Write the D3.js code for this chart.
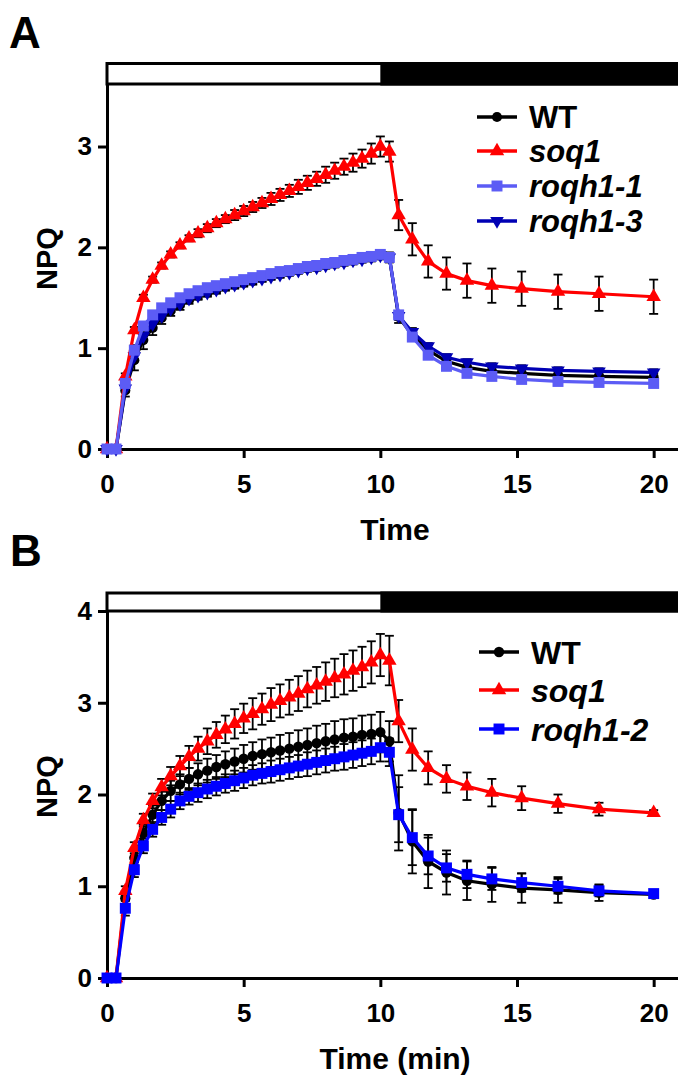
<!DOCTYPE html>
<html>
<head>
<meta charset="utf-8">
<script src="https://cdn.jsdelivr.net/npm/d3@7"></script>
<style>
body { margin: 0; background: #fff; }
svg { display: block; font-family: Arial, "Liberation Sans", sans-serif; font-weight: bold; }
</style>
</head>
<body>
<div id="view"></div>
<script>
var width = 678, height = 1078;

// sampling times (min): light phase every 20 s, then dark recovery
var times = [0, 0.33, 0.67, 1, 1.33, 1.67, 2, 2.33, 2.67, 3,
	3.33, 3.67, 4, 4.33, 4.67, 5, 5.33, 5.67, 6, 6.33,
	6.67, 7, 7.33, 7.67, 8, 8.33, 8.67, 9, 9.33, 9.67,
	10, 10.33, 10.67, 11.17, 11.75, 12.42, 13.17, 14.08, 15.17, 16.5, 18, 20];
var xTicks = [0, 5, 10, 15, 20];
var yTicksA = [0, 1, 2, 3];
var yTicksB = [0, 1, 2, 3, 4];

// panel A
var aWT = [0, 0, 0.58, 0.88, 1.08, 1.2, 1.3, 1.37, 1.43, 1.48,
	1.52, 1.55, 1.58, 1.61, 1.63, 1.65, 1.67, 1.7, 1.72, 1.74,
	1.76, 1.78, 1.8, 1.81, 1.83, 1.84, 1.86, 1.87, 1.89, 1.9,
	1.92, 1.9, 1.31, 1.13, 0.98, 0.87, 0.81, 0.77, 0.75, 0.73, 0.72, 0.71];
var aWTErr = [0, 0, 0.06, 0.1, 0.09, 0.07, 0.06, 0.05, 0.05, 0.04,
	0.04, 0.04, 0.04, 0.04, 0.04, 0.04, 0.04, 0.04, 0.04, 0.04,
	0.04, 0.04, 0.04, 0.04, 0.04, 0.04, 0.04, 0.04, 0.04, 0.04,
	0.04, 0.05, 0.06, 0.06, 0.05, 0.05, 0.05, 0.04, 0.04, 0.04, 0.04, 0.04];
var aSoq1 = [0, 0, 0.72, 1.18, 1.5, 1.68, 1.82, 1.93, 2.02, 2.09,
	2.14, 2.19, 2.24, 2.28, 2.32, 2.36, 2.4, 2.44, 2.48, 2.52,
	2.56, 2.6, 2.64, 2.68, 2.72, 2.76, 2.8, 2.84, 2.88, 2.93,
	3.0, 2.95, 2.32, 2.08, 1.86, 1.74, 1.67, 1.62, 1.59, 1.56, 1.54, 1.51];
var aSoq1Err = [0, 0, 0.03, 0.03, 0.03, 0.03, 0.03, 0.03, 0.03, 0.03,
	0.04, 0.04, 0.04, 0.04, 0.05, 0.05, 0.05, 0.05, 0.06, 0.06,
	0.06, 0.07, 0.07, 0.07, 0.08, 0.08, 0.08, 0.09, 0.09, 0.1,
	0.1, 0.1, 0.15, 0.16, 0.16, 0.16, 0.17, 0.17, 0.17, 0.17, 0.17, 0.17];
var aRoqh11 = [0, 0, 0.65, 0.98, 1.22, 1.33, 1.4, 1.45, 1.5, 1.54,
	1.57, 1.6, 1.62, 1.64, 1.66, 1.68, 1.7, 1.72, 1.74, 1.76,
	1.77, 1.79, 1.81, 1.82, 1.84, 1.85, 1.87, 1.88, 1.9, 1.91,
	1.93, 1.9, 1.33, 1.11, 0.93, 0.82, 0.75, 0.72, 0.69, 0.67, 0.66, 0.65];
var aRoqh11Err = [0, 0, 0.04, 0.05, 0.04, 0.04, 0.03, 0.03, 0.03, 0.03,
	0.03, 0.03, 0.03, 0.03, 0.03, 0.03, 0.03, 0.03, 0.03, 0.03,
	0.03, 0.03, 0.03, 0.03, 0.03, 0.03, 0.03, 0.03, 0.03, 0.03,
	0.03, 0.03, 0.03, 0.03, 0.03, 0.03, 0.03, 0.03, 0.03, 0.03, 0.03, 0.03];
var aRoqh13 = [0, 0, 0.6, 0.92, 1.12, 1.24, 1.32, 1.39, 1.44, 1.49,
	1.52, 1.55, 1.58, 1.61, 1.63, 1.65, 1.67, 1.69, 1.71, 1.73,
	1.75, 1.77, 1.79, 1.8, 1.82, 1.84, 1.85, 1.87, 1.88, 1.9,
	1.92, 1.9, 1.32, 1.16, 1.02, 0.91, 0.86, 0.82, 0.8, 0.78, 0.77, 0.76];
var aRoqh13Err = [0, 0, 0.03, 0.03, 0.03, 0.03, 0.03, 0.03, 0.03, 0.03,
	0.03, 0.03, 0.03, 0.03, 0.03, 0.03, 0.03, 0.03, 0.03, 0.03,
	0.03, 0.03, 0.03, 0.03, 0.03, 0.03, 0.03, 0.03, 0.03, 0.03,
	0.03, 0.03, 0.04, 0.04, 0.03, 0.03, 0.03, 0.03, 0.03, 0.03, 0.03, 0.03];

// panel B
var bWT = [0, 0, 0.87, 1.31, 1.58, 1.78, 1.93, 2.04, 2.11, 2.17,
	2.22, 2.26, 2.3, 2.33, 2.36, 2.39, 2.42, 2.44, 2.46, 2.48,
	2.5, 2.52, 2.54, 2.56, 2.58, 2.6, 2.62, 2.63, 2.65, 2.66,
	2.68, 2.58, 1.8, 1.49, 1.27, 1.15, 1.06, 1.02, 0.98, 0.96, 0.93, 0.91];
var bWTErr = [0, 0, 0.08, 0.08, 0.09, 0.1, 0.1, 0.11, 0.11, 0.12,
	0.12, 0.13, 0.13, 0.14, 0.14, 0.15, 0.15, 0.16, 0.16, 0.17,
	0.17, 0.18, 0.18, 0.19, 0.19, 0.2, 0.2, 0.2, 0.21, 0.21,
	0.22, 0.22, 0.41, 0.35, 0.29, 0.24, 0.21, 0.19, 0.16, 0.14, 0.09, 0.03];
var bSoq1 = [0, 0, 0.95, 1.42, 1.72, 1.93, 2.08, 2.2, 2.31, 2.41,
	2.5, 2.58, 2.65, 2.71, 2.77, 2.83, 2.88, 2.93, 2.98, 3.02,
	3.06, 3.1, 3.15, 3.19, 3.23, 3.27, 3.31, 3.35, 3.39, 3.44,
	3.52, 3.46, 2.8, 2.49, 2.29, 2.17, 2.09, 2.02, 1.96, 1.9, 1.84, 1.8];
var bSoq1Err = [0, 0, 0.05, 0.06, 0.07, 0.08, 0.09, 0.1, 0.11, 0.12,
	0.13, 0.14, 0.14, 0.15, 0.16, 0.16, 0.17, 0.17, 0.18, 0.18,
	0.19, 0.19, 0.2, 0.2, 0.21, 0.21, 0.22, 0.22, 0.22, 0.23,
	0.23, 0.27, 0.23, 0.23, 0.18, 0.15, 0.15, 0.15, 0.13, 0.1, 0.07, 0.03];
var bRoqh12 = [0, 0, 0.76, 1.18, 1.44, 1.62, 1.75, 1.84, 1.93, 1.98,
	2.02, 2.06, 2.09, 2.12, 2.15, 2.18, 2.21, 2.23, 2.25, 2.27,
	2.29, 2.31, 2.33, 2.35, 2.37, 2.39, 2.41, 2.43, 2.45, 2.47,
	2.51, 2.46, 1.78, 1.53, 1.33, 1.2, 1.13, 1.08, 1.04, 1.0, 0.95, 0.92];
var bRoqh12Err = [0, 0, 0.08, 0.08, 0.08, 0.08, 0.08, 0.09, 0.09, 0.09,
	0.1, 0.1, 0.1, 0.1, 0.11, 0.11, 0.11, 0.11, 0.12, 0.12,
	0.12, 0.12, 0.13, 0.13, 0.13, 0.13, 0.14, 0.14, 0.14, 0.14,
	0.15, 0.15, 0.3, 0.3, 0.2, 0.15, 0.15, 0.12, 0.1, 0.08, 0.06, 0.03];

var triDown = { draw: function(ctx, size) { // d3.symbolTriangle flipped
	var y = -Math.sqrt(size / (3 * Math.sqrt(3)));
	ctx.moveTo(0, -y * 2);
	ctx.lineTo(-Math.sqrt(3) * y, y);
	ctx.lineTo(Math.sqrt(3) * y, y);
	ctx.closePath();
} };

var svg = d3.select("#view").append("svg")
	.attr("width", width)
	.attr("height", height);

function drawPanel(p) {
	var g = svg.append("g");
	var x = d3.scaleLinear().domain([0, 21]).range([107, 681]);
	var y = d3.scaleLinear().domain([0, p.ymax]).range([p.y0, p.ytop]);

	// light / dark bar above the plot
	g.append("rect")
		.attr("x", 107).attr("y", p.barTop)
		.attr("width", 620).attr("height", p.ytop - p.barTop)
		.attr("fill", "#fff").attr("stroke", "#000").attr("stroke-width", 3);
	g.append("rect")
		.attr("x", x(10)).attr("y", p.barTop - 1.5)
		.attr("width", 400).attr("height", p.ytop - p.barTop + 3)
		.attr("fill", "#000");

	var xAxis = g.append("g")
		.attr("transform", "translate(0," + p.y0 + ")")
		.call(d3.axisBottom(x).tickValues(xTicks).tickSize(9).tickSizeOuter(0).tickPadding(17));
	var yAxis = g.append("g")
		.attr("transform", "translate(107,0)")
		.call(d3.axisLeft(y).tickValues(p.yTicks).tickFormat(d3.format("d"))
			.tickSize(9).tickSizeOuter(0).tickPadding(6));
	[xAxis, yAxis].forEach(function(a) {
		a.select(".domain").attr("stroke-width", 3);
		a.selectAll(".tick line").attr("stroke-width", 3);
		a.selectAll(".tick text")
			.attr("font-size", 26).attr("font-family", "Arial, 'Liberation Sans', sans-serif")
			.attr("font-weight", "bold").attr("fill", "#000");
	});

	// error bars
	p.series.forEach(function(s) {
		var eb = g.append("g").attr("stroke", "#000").attr("stroke-width", 1.8);
		times.forEach(function(t, i) {
			var e = s.err[i];
			if (!e) return;
			var cx = x(t), y1 = y(s.values[i] - e), y2 = y(s.values[i] + e);
			eb.append("line").attr("x1", cx).attr("x2", cx).attr("y1", y1).attr("y2", y2);
			eb.append("line").attr("x1", cx - 4.5).attr("x2", cx + 4.5).attr("y1", y1).attr("y2", y1);
			eb.append("line").attr("x1", cx - 4.5).attr("x2", cx + 4.5).attr("y1", y2).attr("y2", y2);
		});
	});

	// lines and markers
	var line = d3.line().x(function(d) { return x(d[0]); }).y(function(d) { return y(d[1]); });
	p.drawOrder.forEach(function(k) {
		var s = p.series[k];
		var pts = times.map(function(t, i) { return [t, s.values[i]]; });
		g.append("path").attr("d", line(pts))
			.attr("fill", "none").attr("stroke", s.color).attr("stroke-width", 3.2);
		g.selectAll(null).data(pts).enter().append("path")
			.attr("d", d3.symbol().type(s.symbol).size(s.size))
			.attr("transform", function(d) { return "translate(" + x(d[0]) + "," + y(d[1]) + ")"; })
			.attr("fill", s.color);
	});

	// legend
	p.series.forEach(function(s, i) {
		var ly = p.legendY[i];
		g.append("line").attr("x1", p.legendX).attr("x2", p.legendX + 40)
			.attr("y1", ly).attr("y2", ly)
			.attr("stroke", s.color).attr("stroke-width", 3.5);
		g.append("path").attr("d", d3.symbol().type(s.symbol).size(s.size))
			.attr("transform", "translate(" + (p.legendX + 20) + "," + ly + ")")
			.attr("fill", s.color);
		g.append("text").attr("x", p.legendX + 52).attr("y", ly).attr("dy", "0.36em")
			.attr("font-size", p.legendSize)
			.attr("font-style", s.italic ? "italic" : "normal")
			.text(s.name);
	});

	// titles
	g.append("text").attr("x", 395).attr("y", p.y0 + 91)
		.attr("text-anchor", "middle").attr("font-size", 30).text(p.xTitle);
	g.append("text")
		.attr("transform", "translate(57," + ((p.y0 + p.ytop) / 2 - 8) + ") rotate(-90)")
		.attr("text-anchor", "middle").attr("font-size", 29).text("NPQ");
	g.append("text").attr("x", p.letterX).attr("y", p.letterY)
		.attr("font-size", 44).text(p.letter);
}

drawPanel({
	letter: "A", letterX: 9, letterY: 48,
	barTop: 63.5, ytop: 84, y0: 449, ymax: 3.62, yTicks: yTicksA,
	xTitle: "Time",
	legendX: 477, legendY: [117, 151, 186, 221], legendSize: 31,
	series: [
		{ name: "WT", values: aWT, err: aWTErr, color: "#000000", symbol: d3.symbolCircle, size: 80, italic: false },
		{ name: "soq1", values: aSoq1, err: aSoq1Err, color: "#ff0000", symbol: d3.symbolTriangle, size: 90, italic: true },
		{ name: "roqh1-1", values: aRoqh11, err: aRoqh11Err, color: "#5c5cf5", symbol: d3.symbolSquare, size: 120, italic: true },
		{ name: "roqh1-3", values: aRoqh13, err: aRoqh13Err, color: "#0000b4", symbol: triDown, size: 80, italic: true }
	],
	drawOrder: [0, 3, 1, 2]
});

drawPanel({
	letter: "B", letterX: 10, letterY: 566,
	barTop: 593, ytop: 611, y0: 978, ymax: 4, yTicks: yTicksB,
	xTitle: "Time (min)",
	legendX: 479, legendY: [652, 690, 729], legendSize: 32,
	series: [
		{ name: "WT", values: bWT, err: bWTErr, color: "#000000", symbol: d3.symbolCircle, size: 85, italic: false },
		{ name: "soq1", values: bSoq1, err: bSoq1Err, color: "#ff0000", symbol: d3.symbolTriangle, size: 90, italic: true },
		{ name: "roqh1-2", values: bRoqh12, err: bRoqh12Err, color: "#0000ff", symbol: d3.symbolSquare, size: 120, italic: true }
	],
	drawOrder: [0, 1, 2]
});
</script>
</body>
</html>
